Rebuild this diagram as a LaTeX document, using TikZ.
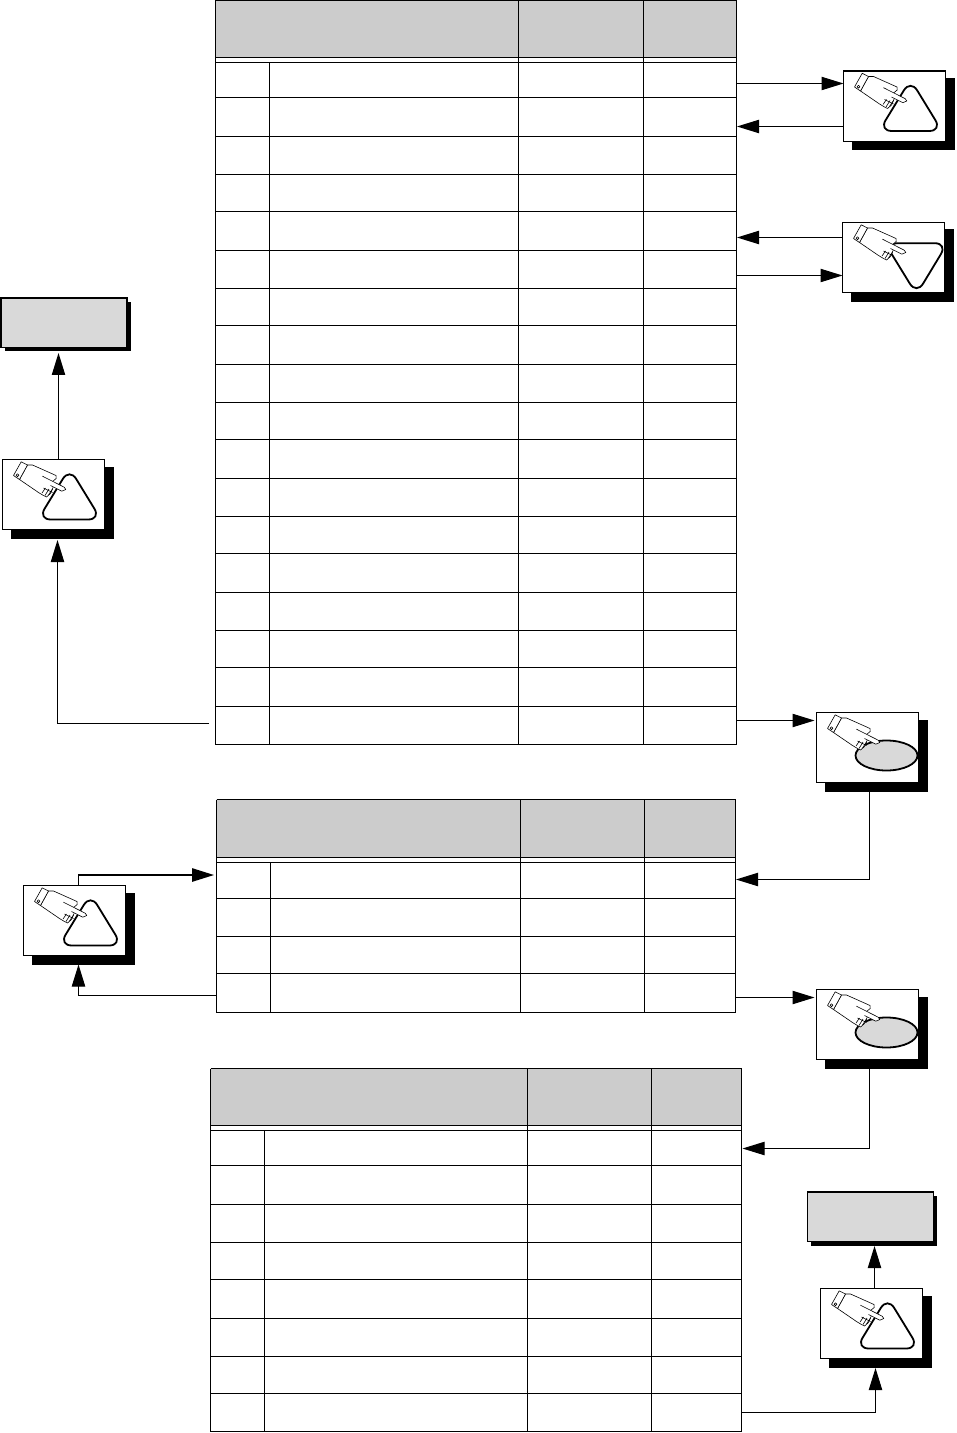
\documentclass[tikz,border=0pt]{standalone}
\usetikzlibrary{arrows.meta}
\definecolor{hdrgray}{HTML}{CCCCCC}
\definecolor{boxgray}{HTML}{D9D9D9}
\tikzset{
  tline/.style={line width=0.75pt},
  handnode/.style={draw,line width=0.85pt,fill=white,anchor=north west,inner sep=0pt,outer sep=0pt,minimum width=76.2pt,minimum height=52.8pt},
  graynode/.style={draw,line width=0.85pt,fill=boxgray,anchor=north west,inner sep=0pt,outer sep=0pt,minimum width=94.5pt,minimum height=37pt},
  conn/.style={line width=0.75pt,-{Triangle[length=16.5pt,width=10pt]}},
  handline/.style={line width=0.45pt,fill=white,line join=round},
  shapeline/.style={line width=1.35pt,line join=round},
}
% #1 left, #2 col1, #3 col2, #4 col3, #5 right, #6 top, #7 header bottom, #8 second rule, #9 row rules; \tbot = bottom
\newcommand\flowtable[9]{%
  \fill[hdrgray] (#1,#6) rectangle (#5,#7);
  \foreach \yy in {#9} {\draw[tline] (#1,\yy+0.5) -- (#5,\yy+0.5);}
  \draw[tline] (#1,#6) -- (#5,#6);
  \draw[tline] (#1,#7) -- (#5,#7);
  \draw[tline] (#1,#8) -- (#5,#8);
  \draw[tline] (#1,#6) -- (#1,\tbot+0.5);
  \draw[tline] (#5,#6) -- (#5,\tbot+0.5);
  \draw[tline] (#3,#6) -- (#3,\tbot+0.5);
  \draw[tline] (#4,#6) -- (#4,\tbot+0.5);
  \draw[tline] (#2,#8) -- (#2,\tbot+0.5);
}
\newcommand\handglyph{%
  \draw[handline] (25,5.5) -- (30,5.5) -- (53.5,16) -- (53.7,19) -- (50,22) -- (50.7,27.7) -- (48,34) -- (44,37.5) -- (41,36) -- (36,33) -- (17,20) -- cycle;
  \draw[handline] (18.7,2.3) -- (11,16) -- (17,20) -- (25,5.5) -- cycle;
  \draw[handline] (15,15.7) circle (1.4);
  \draw[handline] (40,16.7) -- (61.7,27.7) -- (63.3,30) -- (59.3,31.7) -- (48,26);
  \draw[line width=0.45pt] (43,28.5) -- (39.5,33.5) (46.5,29.5) -- (42.5,36) (50,29.5) -- (46,35.5) (41,28.5) -- (50,33);
}
\newcommand\handbox[4]{%
  \fill[black] (#2+8,#3+7) rectangle (#2+111,#3+79.5);
  \node[handnode] (#1) at (#2,#3) {};
  \begin{scope}[shift={(#2,#3)}]
    #4
    \handglyph
  \end{scope}
}
\newcommand\triup{\draw[shapeline,rounded corners=9.5pt] (67,8.5) -- (35.5,60) -- (98.5,60) -- cycle;}
\newcommand\tridown{\draw[shapeline,rounded corners=9.5pt] (42.5,20.7) -- (105,20.7) -- (74,72) -- cycle;}
\newcommand\ovalshape{\draw[shapeline,fill=boxgray] (70,43) ellipse (31 and 15);}
\newcommand\graybox[3]{%
  \fill[black] (#2+3.5,#3+4) rectangle (#2+129.5,#3+53.5);
  \node[graynode] (#1) at (#2,#3) {};
}
\begin{document}
\begin{tikzpicture}[x=0.75pt,y=-0.75pt]
\useasboundingbox (0,0) rectangle (956,1433);
\def\tbot{744}
\flowtable{215.5}{269.5}{518.5}{643.5}{736.5}{0.5}{57.5}{62.5}{97,136,174,211,250,288,325,364,402,439,478,516,553,592,630,667,706,744}
\def\tbot{1012}
\flowtable{216.5}{270.5}{520.5}{644.5}{735.5}{799.5}{857.5}{862.5}{898,936,973,1012}
\def\tbot{1431}
\flowtable{210.5}{264.5}{527.5}{651.5}{741.5}{1068.5}{1125.5}{1130.5}{1165,1204,1242,1279,1318,1356,1393,1431}

\handbox{hbA}{843.5}{71}{\triup}
\handbox{hbB}{842.5}{222.5}{\tridown}
\handbox{hbC}{2.5}{459.5}{\triup}
\handbox{hbD}{816.5}{712.5}{\ovalshape}
\handbox{hbE}{23.5}{885.5}{\triup}
\handbox{hbF}{816.5}{989.5}{\ovalshape}
\handbox{hbG}{820.5}{1288.5}{\triup}
\graybox{gbA}{1}{298}
\graybox{gbB}{807.5}{1192}

\coordinate (a1) at (736.5,83.5);
\coordinate (a2) at (737,126.5);
\coordinate (a3) at (737,237.5);
\coordinate (a4) at (736.5,275.5);
\coordinate (a5) at (209,723.5);
\coordinate (a6) at (736.5,720.5);
\coordinate (a7) at (736,879.5);
\coordinate (a8) at (214,875);
\coordinate (a9) at (215.5,995.5);
\coordinate (a10) at (736,997.5);
\coordinate (a11) at (742.5,1148.5);
\coordinate (a12) at (741.5,1412.5);
\coordinate (a13) at (869.5,792);
\coordinate (a14) at (869.5,1069);
\coordinate (a15) at (57.5,540);
\coordinate (a16) at (58.5,353);
\coordinate (a17) at (78.5,964.5);
\coordinate (a18) at (875.5,1368);
\coordinate (a19) at (874.5,1246);

\draw[conn] (a1) -- (hbA.west |- a1);
\draw[conn] (hbA.west |- a2) -- (a2);
\draw[conn] (hbB.west |- a3) -- (a3);
\draw[conn] (a4) -- (hbB.west |- a4);
\draw[conn] (hbC.north -| a16) -- (a16);
\draw[conn] (a5) -- (a5 -| a15) -- (a15);
\draw[conn] (a6) -- ([xshift=-1.5pt]hbD.west |- a6);
\draw[conn] (a13) -- (a13 |- a7) -- (a7);
\draw[conn,line width=1.3pt] (hbE.north -| a17) -- (a17 |- a8) -- (a8);
\draw[conn] (a9) -- (a9 -| a17) -- (a17);
\draw[conn] (a10) -- ([xshift=-1.5pt]hbF.west |- a10);
\draw[conn] (a14) -- (a14 |- a11) -- (a11);
\draw[conn] (hbG.north -| a19) -- (a19);
\draw[conn] (a12) -- (a12 -| a18) -- (a18);
\end{tikzpicture}
\end{document}
